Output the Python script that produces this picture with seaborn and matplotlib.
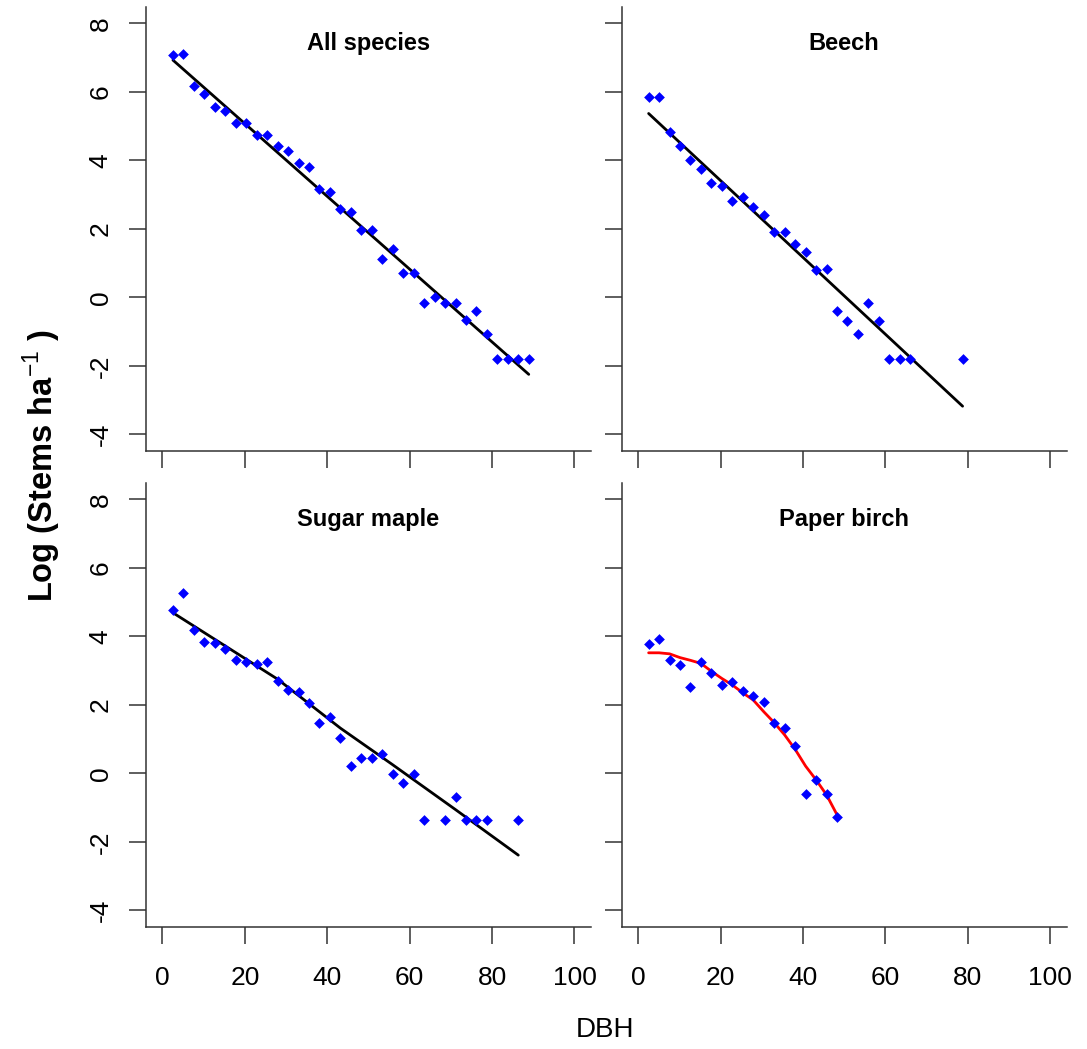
import numpy as np
import pandas as pd
import seaborn as sns
import matplotlib.pyplot as plt

# DBH classes (cm) and log stem densities
all_dbh = [2.54, 5.08, 7.62, 10.16, 12.70, 15.24, 17.78, 20.32, 22.86, 25.40,
           27.94, 30.48, 33.02, 35.56, 38.10, 40.64, 43.18, 45.72, 48.26, 50.80,
           53.34, 55.88, 58.42, 60.96, 63.50, 66.04, 68.58, 71.12, 73.66, 76.20,
           78.74, 81.28, 83.82, 86.36, 88.90]
all_y = [7.07, 7.12, 6.17, 5.94, 5.55, 5.45, 5.10, 5.10, 4.74, 4.74,
         4.42, 4.28, 3.91, 3.80, 3.17, 3.07, 2.59, 2.50, 1.97, 1.97,
         1.12, 1.42, 0.71, 0.71, -0.18, 0.00, -0.18, -0.18, -0.67, -0.40,
         -1.07, -1.79, -1.79, -1.79, -1.79]
all_fit_x = [2.54, 88.90]
all_fit_y = [6.93, -2.25]

beech_dbh = [2.54, 5.08, 7.62, 10.16, 12.70, 15.24, 17.78, 20.32, 22.86, 25.40,
             27.94, 30.48, 33.02, 35.56, 38.10, 40.64, 43.18, 45.72, 48.26, 50.80,
             53.34, 55.88, 58.42, 60.96, 63.50, 66.04, 78.74]
beech_y = [5.86, 5.86, 4.82, 4.42, 4.01, 3.75, 3.35, 3.25, 2.80, 2.94,
           2.63, 2.40, 1.92, 1.92, 1.55, 1.33, 0.80, 0.84, -0.41, -0.68,
           -1.08, -0.18, -0.68, -1.79, -1.79, -1.79, -1.79]
beech_fit_x = [2.54, 78.74]
beech_fit_y = [5.37, -3.18]

maple_dbh = [2.54, 5.08, 7.62, 10.16, 12.70, 15.24, 17.78, 20.32, 22.86, 25.40,
             27.94, 30.48, 33.02, 35.56, 38.10, 40.64, 43.18, 45.72, 48.26, 50.80,
             53.34, 55.88, 58.42, 60.96, 63.50, 68.58, 71.12, 73.66, 76.20, 78.74,
             86.36]
maple_y = [4.77, 5.28, 4.19, 3.84, 3.80, 3.62, 3.31, 3.26, 3.18, 3.26,
           2.71, 2.42, 2.37, 2.05, 1.47, 1.65, 1.03, 0.22, 0.45, 0.45,
           0.57, -0.01, -0.28, -0.01, -1.35, -1.35, -0.68, -1.35, -1.35, -1.35,
           -1.35]
maple_fit_x = [2.54, 27.94, 43.18, 55.88, 71.12, 86.36]
maple_fit_y = [4.69, 2.75, 1.32, 0.25, -1.06, -2.39]

birch_dbh = [2.54, 5.08, 7.62, 10.16, 12.70, 15.24, 17.78, 20.32, 22.86, 25.40,
             27.94, 30.48, 33.02, 35.56, 38.10, 40.64, 43.18, 45.72, 48.26]
birch_y = [3.79, 3.92, 3.30, 3.16, 2.53, 3.25, 2.94, 2.58, 2.67, 2.40,
           2.26, 2.09, 1.46, 1.33, 0.79, -0.59, -0.19, -0.59, -1.28]
birch_fit_y = [3.52, 3.52, 3.49, 3.38, 3.30, 3.21, 2.98, 2.77, 2.58, 2.35,
               2.14, 1.80, 1.48, 1.12, 0.70, 0.21, -0.19, -0.63, -1.21]

titles = ['All species', 'Beech', 'Sugar maple', 'Paper birch']
x_ticks = [0, 20, 40, 60, 80, 100]
y_ticks = [-4, -2, 0, 2, 4, 6, 8]

sns.set_style('ticks')
plt.rcParams['font.family'] = ['Liberation Sans', 'DejaVu Sans']
plt.rcParams['text.color'] = 'black'
plt.rcParams['axes.unicode_minus'] = False
plt.rcParams['mathtext.fontset'] = 'custom'
plt.rcParams['mathtext.rm'] = 'Liberation Sans'
plt.rcParams['mathtext.bf'] = 'Liberation Sans:bold'

panels = [
    (all_dbh, all_y, all_fit_x, all_fit_y, 'black'),
    (beech_dbh, beech_y, beech_fit_x, beech_fit_y, 'black'),
    (maple_dbh, maple_y, maple_fit_x, maple_fit_y, 'black'),
    (birch_dbh, birch_y, birch_dbh, birch_fit_y, 'red'),
]

fig, axes = plt.subplots(2, 2, figsize=(10.87, 10.49), dpi=100)
fig.subplots_adjust(left=0.1343, right=0.9813, bottom=0.1166, top=0.9933,
                    wspace=0.069, hspace=0.0728)

spine_col = '#333333'
for i, ax in enumerate(axes.flat):
    px, py, fx, fy, col = panels[i]
    pts = pd.DataFrame({'dbh': px, 'logn': py})
    fit = pd.DataFrame({'dbh': fx, 'logn': fy})
    sns.lineplot(data=fit, x='dbh', y='logn', color=col, linewidth=2.0, ax=ax)
    sns.scatterplot(data=pts, x='dbh', y='logn', color='#0000ff', marker='D',
                    s=30, linewidth=0, ax=ax, zorder=3)

    ax.set_xlim(-4, 104)
    ax.set_ylim(-4.48, 8.48)
    ax.set_xticks(x_ticks)
    ax.set_yticks(y_ticks)
    ax.set_xlabel('')
    ax.set_ylabel('')
    sns.despine(ax=ax)
    for s in ['left', 'bottom']:
        ax.spines[s].set_color(spine_col)
        ax.spines[s].set_linewidth(1.1)
    ax.tick_params(axis='both', direction='out', length=12, width=1.1,
                   bottom=True, left=True,
                   color=spine_col, labelsize=19, labelcolor='black')
    ax.tick_params(axis='x', pad=16)
    ax.tick_params(axis='y', pad=12, labelrotation=90)
    for lab in ax.get_yticklabels():
        lab.set_va('center')
    if i % 2 == 1:
        ax.set_yticklabels([])
    if i < 2:
        ax.set_xticklabels([])
    ax.text(0.5, 0.918, titles[i], transform=ax.transAxes, ha='center',
            va='center', fontsize=17, fontweight='bold', color='black')

fig.text(0.039, 0.556, r'Log (Stems ha$^{-1}$ )', rotation=90, ha='center',
         va='center', fontsize=23.5, fontweight='bold', color='black')
fig.text(0.557, 0.018, 'DBH', ha='center', va='center', fontsize=20,
         color='black')

fig.savefig('out.png', dpi=100)
